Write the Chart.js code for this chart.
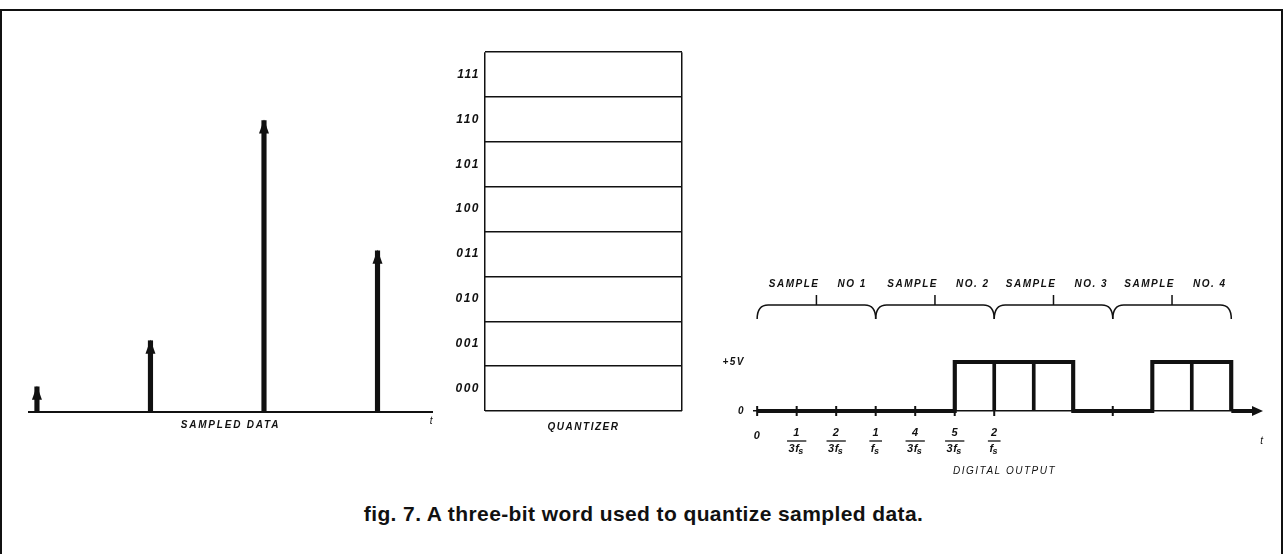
<!DOCTYPE html>
<html>
<head>
<meta charset="utf-8">
<title>fig. 7</title>
<script src="https://cdn.jsdelivr.net/npm/chart.js@4.4.1/dist/chart.umd.min.js"></script>
<style>
  html, body { margin: 0; padding: 0; background: #fff; }
  #page { position: relative; width: 1287px; height: 554px; overflow: hidden; background: #fff; }
  #frame { position: absolute; left: 0; top: 9px; width: 1279px; height: 600px; border: 2px solid #111; border-bottom: none; }
  .panel { position: absolute; }
  #caption { position: absolute; left: 0; top: 502px; width: 1287px; text-align: center;
    font: bold 21px "Liberation Sans", Arial, sans-serif; line-height: 24px; letter-spacing: 0.4px; color: #111; }
</style>
</head>
<body>
<div id="page">
  <div id="frame"></div>
  <div class="panel" style="left:0;top:40px;width:440px;height:400px"><canvas id="sampled"></canvas></div>
  <div class="panel" style="left:440px;top:40px;width:260px;height:400px"><canvas id="quantizer"></canvas></div>
  <div class="panel" style="left:700px;top:270px;width:587px;height:210px"><canvas id="digital"></canvas></div>
  <div id="caption">fig. 7. A three-bit word used to quantize sampled data.</div>
</div>
<script>
// sampled data: sample instants (units of 1/fs) and amplitudes (in quantizer steps)
const sampleTimes = [0, 1, 2, 3];
const sampleValues = [0.55, 1.57, 6.44, 3.56];

// quantizer levels, top to bottom
const quantLevels = ['111', '110', '101', '100', '011', '010', '001', '000'];

// digital output: three bits per sample, one bit every 1/(3fs)
const sampleCodes = ['000', '001', '110', '011'];
const sampleNames = ['NO 1', 'NO. 2', 'NO. 3', 'NO. 4'];
const highVolts = 5;
const voltTicks = [0, 5];
const voltLabels = ['0', '+5V'];
const bitTicks = [0, 1, 2, 3, 4, 5, 6, 9];
const fracValues = [0, 1, 2, 3, 4, 5, 6];
const fracNum = ['0', '1', '2', '1', '4', '5', '2'];
const fracDen = ['', '3f', '3f', 'f', '3f', '3f', 'f'];

const bits = sampleCodes.join('').split('').map(Number);

const INK = '#111';
const FAMILY = '"Liberation Sans", Arial, sans-serif';
const letterFont = { family: FAMILY, size: 10, style: 'italic', weight: 'bold' };
const css = (size, bold) => `italic ${bold ? 'bold ' : ''}${size}px ${FAMILY}`;

// letter spacing for the hand-lettered look
const spacing = {
  id: 'spacing',
  beforeDraw(chart, args, opts) { chart.ctx.letterSpacing = opts.px || '0px'; }
};

// arrow heads on top of the sample stems
const arrowHeads = {
  id: 'arrowHeads',
  afterDatasetsDraw(chart) {
    const ctx = chart.ctx;
    ctx.save();
    ctx.fillStyle = INK;
    chart.getDatasetMeta(0).data.forEach(bar => {
      ctx.beginPath();
      ctx.moveTo(bar.x, bar.y - 1);
      ctx.lineTo(bar.x - 5, bar.y + 13);
      ctx.lineTo(bar.x + 5, bar.y + 13);
      ctx.closePath();
      ctx.fill();
    });
    ctx.restore();
  }
};

// braces + "SAMPLE NO. n" over each group of three bits
const sampleBraces = {
  id: 'sampleBraces',
  afterDraw(chart) {
    const { ctx, chartArea, scales: { x } } = chart;
    const yLine = chartArea.top - 57, yEnd = chartArea.top - 43;
    const yTick = chartArea.top - 67, yText = chartArea.top - 78;
    ctx.save();
    ctx.strokeStyle = INK; ctx.fillStyle = INK; ctx.lineWidth = 1.5;
    ctx.font = css(10, true); ctx.textBaseline = 'middle';
    sampleCodes.forEach((code, i) => {
      const x0 = x.getPixelForValue(i * 3), x1 = x.getPixelForValue(i * 3 + 3);
      const xm = (x0 + x1) / 2, r = 11;
      ctx.beginPath();
      ctx.moveTo(x0, yEnd);
      ctx.quadraticCurveTo(x0, yLine, x0 + r, yLine);
      ctx.lineTo(x1 - r, yLine);
      ctx.quadraticCurveTo(x1, yLine, x1, yEnd);
      ctx.moveTo(xm, yLine);
      ctx.lineTo(xm, yTick);
      ctx.stroke();
      ctx.textAlign = 'right';
      ctx.fillText('SAMPLE', xm + 3, yText);
      ctx.textAlign = 'left';
      ctx.fillText(sampleNames[i], xm + 21, yText);
    });
    ctx.restore();
  }
};

// fraction tick labels under the time axis, and the "t"
const fractionLabels = {
  id: 'fractionLabels',
  afterDraw(chart) {
    const { ctx, chartArea, scales: { x } } = chart;
    const base = chartArea.bottom;
    ctx.save();
    ctx.fillStyle = INK; ctx.strokeStyle = INK; ctx.lineWidth = 1.3;
    ctx.textBaseline = 'middle';
    ctx.letterSpacing = '0.5px';
    fracValues.forEach((v, i) => {
      const px = x.getPixelForValue(v);
      ctx.textAlign = 'center';
      ctx.font = css(11, true);
      if (!fracDen[i]) {
        ctx.fillText(fracNum[i], px, base + 25);
        return;
      }
      ctx.fillText(fracNum[i], px, base + 22);
      const wMain = ctx.measureText(fracDen[i]).width;
      ctx.font = css(9, true);
      const wSub = ctx.measureText('s').width;
      const left = px - (wMain + wSub) / 2;
      ctx.textAlign = 'left';
      ctx.font = css(11, true);
      ctx.fillText(fracDen[i], left, base + 38);
      ctx.font = css(9, true);
      ctx.fillText('s', left + wMain - 1, base + 41);
      const half = (wMain + wSub) / 2 + 1.5;
      ctx.beginPath();
      ctx.moveTo(px - half, base + 30);
      ctx.lineTo(px + half, base + 30);
      ctx.stroke();
    });
    ctx.font = css(10, false);
    ctx.textAlign = 'center';
    ctx.fillText('t', chartArea.right + 7, base + 30);
    ctx.restore();
  }
};

// thick tail with arrow head after the last bit
const axisArrow = {
  id: 'axisArrow',
  afterDatasetsDraw(chart) {
    const { ctx, chartArea, scales: { x } } = chart;
    const y = chartArea.bottom;
    const from = x.getPixelForValue(bits.length);
    const to = chartArea.right;
    ctx.save();
    ctx.strokeStyle = INK; ctx.fillStyle = INK; ctx.lineWidth = 4;
    ctx.beginPath(); ctx.moveTo(from, y); ctx.lineTo(to, y); ctx.stroke();
    ctx.beginPath();
    ctx.moveTo(to - 3, y - 5); ctx.lineTo(to + 8, y); ctx.lineTo(to - 3, y + 5);
    ctx.closePath(); ctx.fill();
    ctx.restore();
  }
};

// Sampled data
new Chart(document.getElementById('sampled'), {
  type: 'bar',
  data: {
    datasets: [{
      data: sampleTimes.map((t, i) => ({ x: t, y: sampleValues[i] })),
      backgroundColor: INK,
      barThickness: 4.5,
      clip: false
    }]
  },
  options: {
    responsive: true,
    maintainAspectRatio: false,
    animation: false,
    layout: { padding: { left: 29, right: 8, top: 10, bottom: 0 } },
    plugins: { legend: { display: false }, tooltip: { enabled: false }, spacing: { px: '1.8px' } },
    scales: {
      x: {
        type: 'linear', min: -0.07, max: 3.48, offset: false,
        grid: { display: false, drawTicks: false },
        border: { display: true, color: INK, width: 2 },
        afterBuildTicks: s => { s.ticks = [{ value: s.max }]; },
        ticks: { callback: () => 't', color: INK, font: { family: FAMILY, size: 10, style: 'italic' }, padding: 4, maxRotation: 0 },
        title: { display: true, text: 'SAMPLED DATA', color: INK, font: letterFont, padding: { top: 0, bottom: 9 } },
        afterFit: s => { s.height = 28.3; }
      },
      y: { min: 0, max: 8, display: false }
    }
  },
  plugins: [spacing, arrowHeads]
});

// Quantizer
new Chart(document.getElementById('quantizer'), {
  type: 'scatter',
  data: { datasets: [] },
  options: {
    responsive: true,
    maintainAspectRatio: false,
    animation: false,
    layout: { padding: { left: 0, right: 18, top: 10, bottom: 0 } },
    plugins: { legend: { display: false }, tooltip: { enabled: false }, spacing: { px: '1.5px' } },
    scales: {
      x: {
        type: 'linear', min: 0, max: 1,
        ticks: { display: false, stepSize: 1 },
        grid: { color: INK, lineWidth: 1.5, drawTicks: false },
        border: { display: false },
        title: { display: true, text: 'QUANTIZER', color: INK, font: letterFont, padding: { top: 0, bottom: 7 } },
        afterFit: s => { s.height = 29; }
      },
      y: {
        type: 'category', labels: quantLevels, offset: true,
        grid: { offset: true, color: INK, lineWidth: 1.5, drawTicks: false },
        border: { display: false },
        ticks: { color: INK, font: { ...letterFont, size: 12 }, padding: 5 },
        afterFit: s => { s.width = 45; }
      }
    }
  },
  plugins: [spacing]
});

// Digital output
new Chart(document.getElementById('digital'), {
  type: 'bar',
  data: {
    datasets: [
      {
        type: 'line',
        data: bits.map((b, i) => ({ x: i, y: b * highVolts })).concat([{ x: bits.length, y: 0 }]),
        stepped: 'before',
        borderColor: INK,
        borderWidth: 4,
        pointRadius: 0,
        clip: false,
        order: 0
      },
      {
        type: 'bar',
        data: bits.map((b, i) => ({ x: i + 0.5, y: b ? highVolts : null })),
        backgroundColor: 'rgba(0,0,0,0)',
        borderColor: INK,
        borderWidth: { left: 1.5, right: 1.5, top: 0, bottom: 0 },
        borderSkipped: false,
        barPercentage: 1,
        categoryPercentage: 1,
        clip: false,
        order: 1
      },
      {
        type: 'scatter',
        data: bitTicks.map(v => ({ x: v, y: 0 })),
        pointStyle: 'line',
        rotation: 90,
        pointRadius: 5,
        borderColor: INK,
        borderWidth: 2,
        clip: false,
        order: 2
      }
    ]
  },
  options: {
    responsive: true,
    maintainAspectRatio: false,
    animation: false,
    layout: { padding: { left: 0, right: 32, top: 92, bottom: 0 } },
    plugins: { legend: { display: false }, tooltip: { enabled: false }, spacing: { px: '1.5px' } },
    scales: {
      x: {
        type: 'linear', min: -0.08, max: 12.6, offset: false,
        grid: { display: false, drawTicks: false },
        border: { display: true, color: INK, width: 1.5 },
        ticks: { display: false },
        title: { display: true, text: 'DIGITAL OUTPUT', color: INK, font: { family: FAMILY, size: 10, style: 'italic' }, padding: { top: 0, bottom: 3 } },
        afterFit: s => { s.height = 69; }
      },
      y: {
        min: 0, max: 5,
        grid: { display: false, drawTicks: false },
        border: { display: false },
        afterBuildTicks: s => { s.ticks = voltTicks.map(v => ({ value: v })); },
        ticks: { color: INK, font: letterFont, padding: 9, callback: v => voltLabels[voltTicks.indexOf(v)] },
        afterFit: s => { s.width = 54; }
      }
    }
  },
  plugins: [spacing, sampleBraces, fractionLabels, axisArrow]
});
</script>
</body>
</html>
